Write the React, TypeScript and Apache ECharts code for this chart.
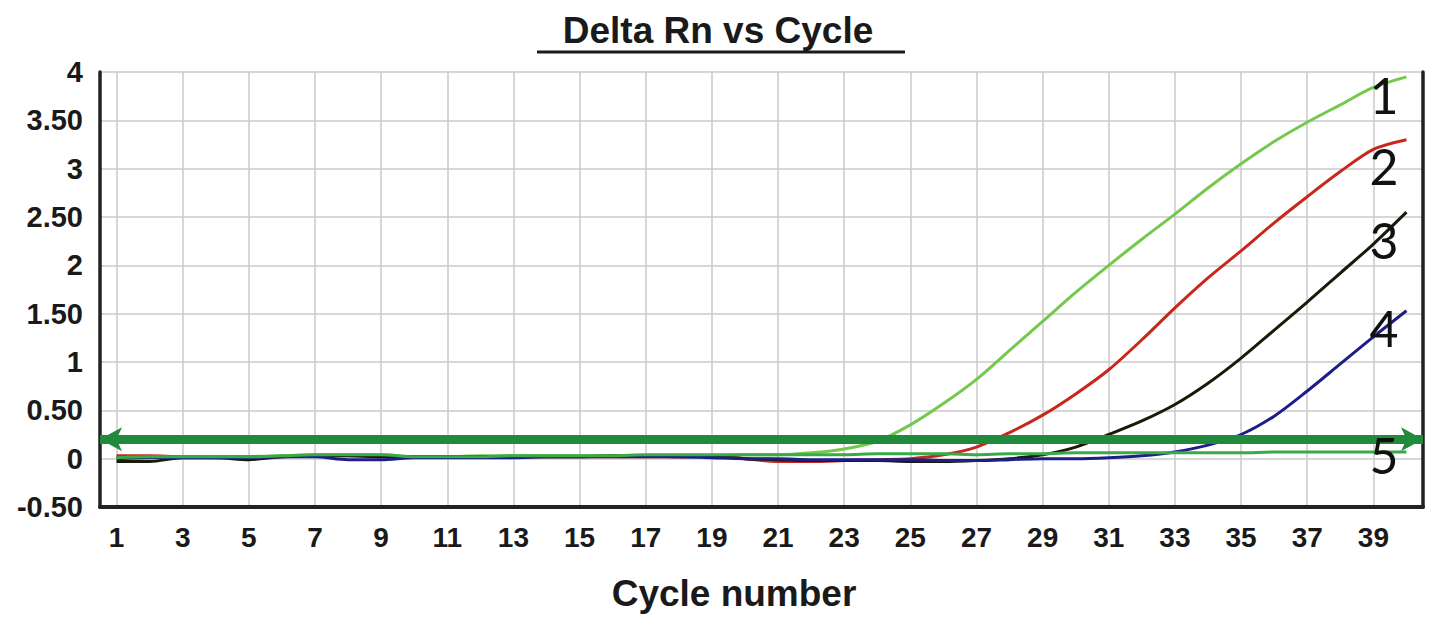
import React, { useEffect, useRef } from "react";
import * as echarts from "echarts";

const cycles = [1,2,3,4,5,6,7,8,9,10,11,12,13,14,15,16,17,18,19,20,21,22,23,24,25,26,27,28,29,30,31,32,33,34,35,36,37,38,39,40];
const xLabelCycles = [1,3,5,7,9,11,13,15,17,19,21,23,25,27,29,31,33,35,37,39];

const curve1 = [0.02,0.02,0.02,0.01,0.02,0.03,0.04,0.04,0.04,0.02,0.02,0.03,0.03,0.03,0.03,0.03,0.03,0.03,0.03,0.04,0.04,0.06,0.10,0.18,0.35,0.57,0.82,1.12,1.42,1.72,2.00,2.27,2.53,2.80,3.05,3.28,3.48,3.66,3.84,3.95];
const curve2 = [0.03,0.03,0.02,0.02,0.02,0.02,0.03,0.03,0.02,0.02,0.02,0.02,0.02,0.02,0.02,0.02,0.02,0.02,0.03,0.00,-0.03,-0.03,-0.02,-0.01,0.00,0.04,0.12,0.27,0.45,0.67,0.92,1.23,1.56,1.87,2.15,2.44,2.71,2.97,3.20,3.30];
const curve3 = [-0.03,-0.03,0.01,0.01,-0.01,0.02,0.03,0.03,0.02,0.02,0.02,0.02,0.02,0.02,0.02,0.03,0.03,0.02,0.02,0.00,-0.01,-0.02,-0.02,-0.02,-0.03,-0.03,-0.02,0.00,0.04,0.12,0.25,0.39,0.56,0.78,1.04,1.33,1.62,1.92,2.22,2.55];
const curve4 = [0.00,0.01,0.01,0.01,0.01,0.02,0.02,-0.01,-0.01,0.01,0.01,0.01,0.01,0.02,0.02,0.02,0.02,0.02,0.01,0.00,0.00,-0.01,-0.01,-0.01,-0.01,-0.02,-0.02,-0.01,0.00,0.00,0.01,0.03,0.07,0.14,0.25,0.44,0.70,0.98,1.26,1.53];
const curve5 = [0.01,0.02,0.02,0.02,0.02,0.03,0.04,0.04,0.04,0.02,0.02,0.02,0.03,0.03,0.03,0.03,0.04,0.04,0.04,0.04,0.04,0.04,0.04,0.05,0.05,0.05,0.04,0.05,0.05,0.06,0.06,0.06,0.06,0.06,0.06,0.07,0.07,0.07,0.07,0.07];

const seriesNames = ["1", "2", "3", "4", "5"];
const seriesColors = ["#74c84c", "#c8281c", "#1a1a08", "#1e1e88", "#3aaa48"];
const threshold = 0.2;

const curveLabels = [
  { text: "1", x: 1384, y: 95 },
  { text: "2", x: 1384, y: 166 },
  { text: "3", x: 1384, y: 240 },
  { text: "4", x: 1384, y: 328 },
  { text: "5", x: 1384, y: 455 },
];

const FONT = "'Liberation Sans', Arial, sans-serif";

export default function App() {
  const ref = useRef<HTMLDivElement>(null);
  useEffect(() => {
    if (!ref.current) return;
    const chart = echarts.init(ref.current, null, { renderer: "svg" });
    const curves = [curve1, curve2, curve3, curve4, curve5];
    const series: any[] = curves.map((c, i) => ({
      name: seriesNames[i],
      type: "line",
      data: cycles.map((x, j) => [x, c[j]]),
      showSymbol: false,
      symbol: "none",
      smooth: 0.3,
      lineStyle: { color: seriesColors[i], width: 3 },
      itemStyle: { color: seriesColors[i] },
      z: 3,
    }));
    series.push({
      name: "threshold",
      type: "line",
      data: [],
      z: 5,
      markLine: {
        silent: true,
        symbol: ["arrow", "arrow"],
        symbolSize: [18, 22],
        label: { show: false },
        lineStyle: { color: "#218a3c", width: 9, type: "solid", opacity: 1 },
        data: [{ yAxis: threshold }],
      },
    });
    chart.setOption({
      animation: false,
      backgroundColor: "#ffffff",
      grid: { left: 100, right: 18, top: 72, bottom: 119, containLabel: false },
      xAxis: {
        type: "value",
        min: 0.5,
        max: 40.5,
        axisLine: { show: true, onZero: false, lineStyle: { color: "#222", width: 4 } },
        axisTick: { show: false, customValues: xLabelCycles },
        axisLabel: {
          customValues: xLabelCycles,
          color: "#1a1a1a",
          fontFamily: FONT,
          fontWeight: "bold",
          fontSize: 28,
          margin: 16,
        },
        splitLine: { show: true, lineStyle: { color: "#cacaca", width: 1.5 } },
      },
      yAxis: [
        {
          type: "value",
          min: -0.5,
          max: 4,
          interval: 0.5,
          axisLine: { show: true, lineStyle: { color: "#222", width: 3.5 } },
          axisTick: { show: false },
          axisLabel: {
            color: "#1a1a1a",
            fontFamily: FONT,
            fontWeight: "bold",
            fontSize: 29,
            margin: 17,
            formatter: (v: number) => (Number.isInteger(v) ? String(v) : v.toFixed(2)),
          },
          splitLine: { show: true, lineStyle: { color: "#cacaca", width: 1.5 } },
        },
        {
          type: "value",
          position: "right",
          min: -0.5,
          max: 4,
          interval: 0.5,
          axisLine: { show: true, lineStyle: { color: "#222", width: 3.5 } },
          axisTick: { show: false },
          axisLabel: { show: false },
          splitLine: { show: false },
        },
      ],
      series,
      graphic: [
        {
          type: "text",
          x: 718,
          y: 30,
          style: {
            text: "Delta Rn vs Cycle",
            fontFamily: FONT,
            fontWeight: "bold",
            fontSize: 37,
            fill: "#1a1a1a",
            align: "center",
            verticalAlign: "middle",
          },
        },
        {
          type: "line",
          shape: { x1: 537, y1: 52, x2: 905, y2: 52 },
          style: { stroke: "#1a1a1a", lineWidth: 3 },
        },
        {
          type: "text",
          x: 734,
          y: 593,
          style: {
            text: "Cycle number",
            fontFamily: FONT,
            fontWeight: "bold",
            fontSize: 37,
            fill: "#1a1a1a",
            align: "center",
            verticalAlign: "middle",
          },
        },
        ...curveLabels.map((l) => ({
          type: "text",
          x: l.x,
          y: l.y,
          z: 10,
          style: {
            text: l.text,
            fontFamily: "Lato, 'Open Sans', sans-serif",
            fontSize: 50,
            fill: "#111",
            align: "center",
            verticalAlign: "middle",
          },
        })),
      ],
    });
    return () => chart.dispose();
  }, []);
  return (
    <div
      ref={ref}
      style={{ position: "fixed", left: 0, top: 0, width: 1441, height: 626, background: "#fff" }}
    />
  );
}
